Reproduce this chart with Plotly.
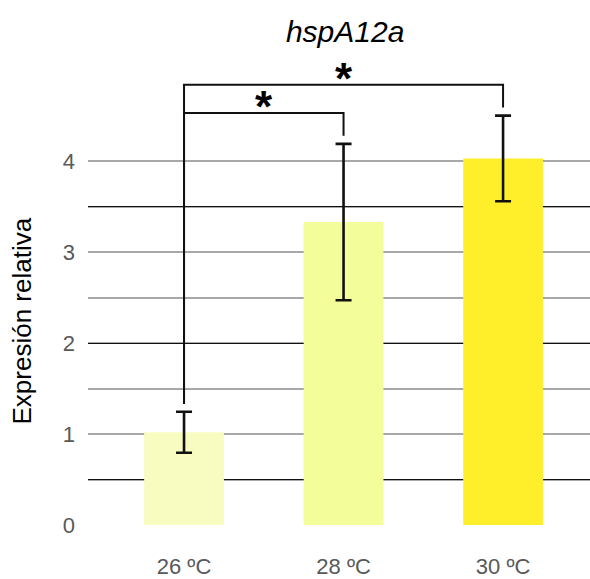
import plotly.graph_objects as go

# ---- data ----
categories = ["26 ºC", "28 ºC", "30 ºC"]
values = [1.02, 3.33, 4.03]
errors = [0.225, 0.86, 0.47]
bar_colors = ["#f8fcc0", "#f3fd9a", "#ffef2b"]

y_tickvals = [0, 1, 2, 3, 4]
y_minor_vals = [0.5, 1.5, 2.5, 3.5]
dark_grid_vals = [0.5, 2, 3.5]

# significance brackets: (left idx, right idx, bracket height, left bottom, right bottom)
brackets = [
    (0, 1, 4.53, 1.33, 4.28),
    (0, 2, 4.84, 1.33, 4.59),
]
star_labels = ["*", "*"]

title_text = "hspA12a"
ytitle_text = "Expresión relativa"

FONT = "Liberation Sans, Arial, sans-serif"
Y_RANGE = [0, 5.2]

fig = go.Figure()

fig.add_trace(go.Bar(
    x=list(range(len(categories))),
    y=values,
    width=0.5,
    marker=dict(color=bar_colors, line=dict(width=0)),
    error_y=dict(type="data", array=errors, visible=True,
                 color="#111111", thickness=2.6, width=8),
    showlegend=False,
    hoverinfo="skip",
))

# invisible trace to activate the overlay axis carrying the dark gridlines
fig.add_trace(go.Scatter(x=[0], y=[0], yaxis="y2", mode="markers",
                         marker=dict(opacity=0), showlegend=False, hoverinfo="skip"))

for (i, j, h, lb, rb), s in zip(brackets, star_labels):
    fig.add_trace(go.Scatter(
        x=[i, i, j, j], y=[lb, h, h, rb],
        mode="lines", line=dict(color="#111111", width=2),
        showlegend=False, hoverinfo="skip",
    ))
    fig.add_annotation(
        x=(i + j) / 2, y=h, xref="x", yref="y",
        text="<b>" + s + "</b>", showarrow=False,
        font=dict(family=FONT, size=44, color="#000000"),
        yanchor="bottom", yshift=-20,
    )

fig.add_annotation(
    x=-0.131, y=2.24, xref="paper", yref="y",
    text=ytitle_text, textangle=-90, showarrow=False,
    font=dict(family=FONT, size=26, color="#000000"),
    xanchor="center", yanchor="middle",
)

fig.update_layout(
    width=590, height=579,
    margin=dict(l=88, r=0, t=52, b=52),
    paper_bgcolor="white", plot_bgcolor="white",
    title=dict(text="<i>" + title_text + "</i>", x=0.585, xref="container",
               y=1 - 31 / 579, yref="container", xanchor="center", yanchor="middle",
               font=dict(family=FONT, size=30, color="#000000")),
    bargap=0.5,
    xaxis=dict(
        range=[-0.602, 2.545],
        tickvals=list(range(len(categories))), ticktext=categories,
        showgrid=False, zeroline=False, showline=False, ticks="",
        tickfont=dict(family=FONT, size=22, color="#595959"),
        ticklabelstandoff=26,
    ),
    yaxis=dict(
        range=Y_RANGE,
        tickvals=y_tickvals,
        showgrid=True, gridcolor="#a8a8a8", gridwidth=1.5,
        minor=dict(tickvals=y_minor_vals, showgrid=True, gridcolor="#a8a8a8", gridwidth=1.5),
        zeroline=False, showline=False, ticks="",
        tickfont=dict(family=FONT, size=22, color="#595959"),
        ticklabelstandoff=12,
    ),
    yaxis2=dict(overlaying="y", side="left", range=Y_RANGE,
                tickvals=dark_grid_vals, showticklabels=False, ticks="",
                showgrid=True, gridcolor="#111111", gridwidth=1,
                zeroline=False, showline=False),
)

fig.write_html("out.html", config={"displayModeBar": False},
               post_script="document.body.style.margin='0';document.body.style.overflow='hidden';")
